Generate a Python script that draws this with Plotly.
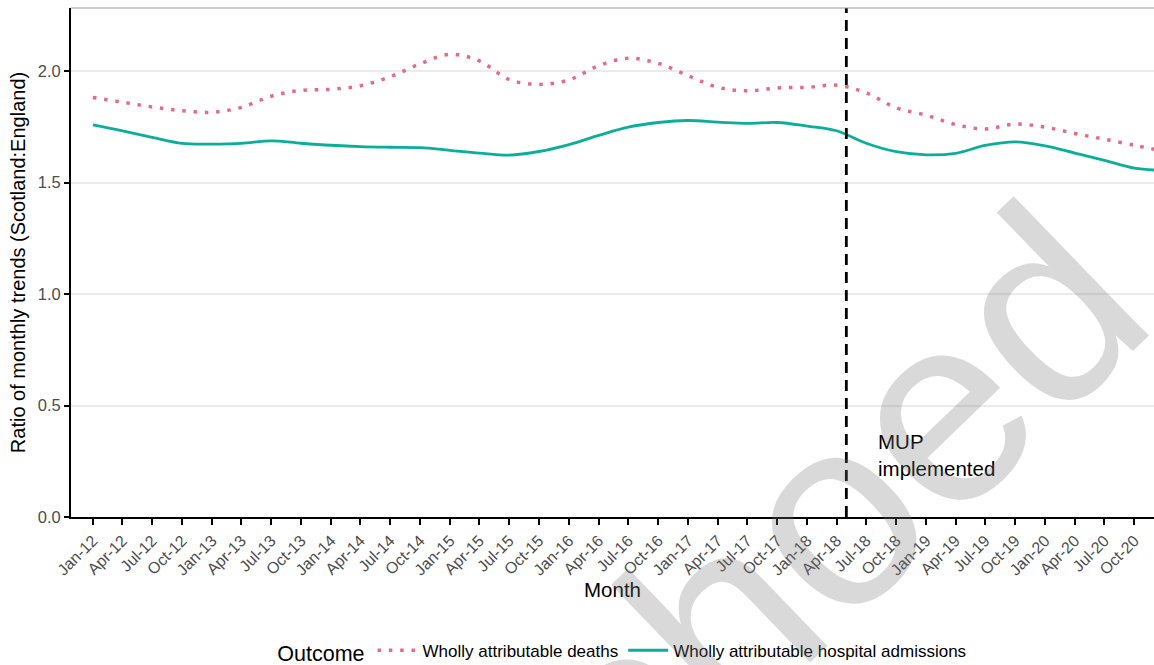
import pandas as pd
import plotly.graph_objects as go

# Quarterly readings (Jan-12 .. Oct-20) plus Dec-20 end point
dates = list(pd.date_range("2012-01-01", "2020-10-01", freq="QS")) + [pd.Timestamp("2020-12-01")]

deaths = [1.881, 1.860, 1.839, 1.822, 1.815, 1.837, 1.887, 1.913, 1.918, 1.934,
          1.974, 2.032, 2.075, 2.045, 1.962, 1.940, 1.960, 2.024, 2.057, 2.034,
          1.979, 1.927, 1.911, 1.924, 1.927, 1.936, 1.902, 1.835, 1.802, 1.760,
          1.740, 1.762, 1.748, 1.720, 1.694, 1.667, 1.649]

admissions = [1.758, 1.731, 1.702, 1.675, 1.672, 1.675, 1.687, 1.676, 1.667, 1.661,
              1.658, 1.656, 1.644, 1.632, 1.623, 1.639, 1.670, 1.711, 1.748, 1.769,
              1.778, 1.771, 1.765, 1.769, 1.753, 1.732, 1.676, 1.638, 1.624, 1.631,
              1.666, 1.682, 1.664, 1.632, 1.599, 1.564, 1.556]

series_names = ["Wholly attributable deaths", "Wholly attributable hospital admissions"]
y_ticks = [0.0, 0.5, 1.0, 1.5, 2.0]
y_tick_labels = ["0.0", "0.5", "1.0", "1.5", "2.0"]
mup_date = "2018-05-01"

FONT = "Liberation Sans, Arial, sans-serif"
PINK = "#E6698A"
TEAL = "#0BAE9B"

fig = go.Figure()
fig.add_trace(go.Scatter(
    x=dates, y=deaths, name=series_names[0], mode="lines",
    line=dict(color=PINK, width=3.5, dash="3.5px,7.8px", shape="spline", smoothing=1.0),
))
fig.add_trace(go.Scatter(
    x=dates, y=admissions, name=series_names[1], mode="lines",
    line=dict(color=TEAL, width=2.8, shape="spline", smoothing=1.0),
))

# MUP implementation line
fig.add_shape(type="line", xref="x", yref="paper", x0=mup_date, x1=mup_date, y0=0, y1=1,
              line=dict(color="black", width=2.8, dash="11px,7px"))
# top panel border
fig.add_shape(type="line", xref="paper", yref="paper", x0=0, x1=1, y0=1, y1=1,
              line=dict(color="#9a9a9a", width=1.2))

fig.add_annotation(x="2018-08-01", y=0.28, xref="x", yref="y", text="MUP<br>implemented",
                   showarrow=False, xanchor="left", yanchor="middle", align="left",
                   font=dict(family=FONT, size=20.5, color="black"))

# watermark
fig.add_annotation(x=0.655, y=-0.088, xref="paper", yref="paper", text="echoed",
                   showarrow=False, textangle=-44, xanchor="center", yanchor="middle",
                   font=dict(family=FONT, size=268, color="rgba(120,120,120,0.28)"))

fig.update_layout(
    width=1154, height=665,
    margin=dict(l=71, r=0, t=8, b=148),
    paper_bgcolor="white", plot_bgcolor="white",
    font=dict(family=FONT, color="black"),
    showlegend=True,
    legend=dict(orientation="h", x=0.51, xanchor="center", y=0.02, yref="container",
                yanchor="middle",
                title=dict(text="Outcome", side="left", font=dict(size=21.5, color="black")),
                font=dict(size=17, color="black"), itemwidth=40),
    xaxis=dict(
        type="date", range=["2011-10-26", "2020-11-30"],
        tick0="2012-01-01", dtick="M3", tickformat="%b-%y", tickangle=-45,
        showgrid=False, zeroline=False,
        showline=True, linecolor="black", linewidth=2,
        ticks="outside", ticklen=6, tickwidth=1.6, tickcolor="black",
        tickfont=dict(family=FONT, size=16, color="#4D4D4D"),
        title=dict(text="Month", font=dict(family=FONT, size=20.5, color="black"), standoff=3),
        automargin=False,
    ),
    yaxis=dict(
        range=[0, 2.2825], tickvals=y_ticks, ticktext=y_tick_labels,
        showgrid=True, gridcolor="#EBEBEB", gridwidth=1.5, zeroline=False,
        showline=True, linecolor="black", linewidth=2,
        ticks="outside", ticklen=5, tickwidth=1.6, tickcolor="black",
        tickfont=dict(family=FONT, size=16.5, color="#4D4D4D"),
        title=dict(text="Ratio of monthly trends (Scotland:England)",
                   font=dict(family=FONT, size=20, color="black"), standoff=7),
        automargin=False,
    ),
)

fig.write_html("out.html")
